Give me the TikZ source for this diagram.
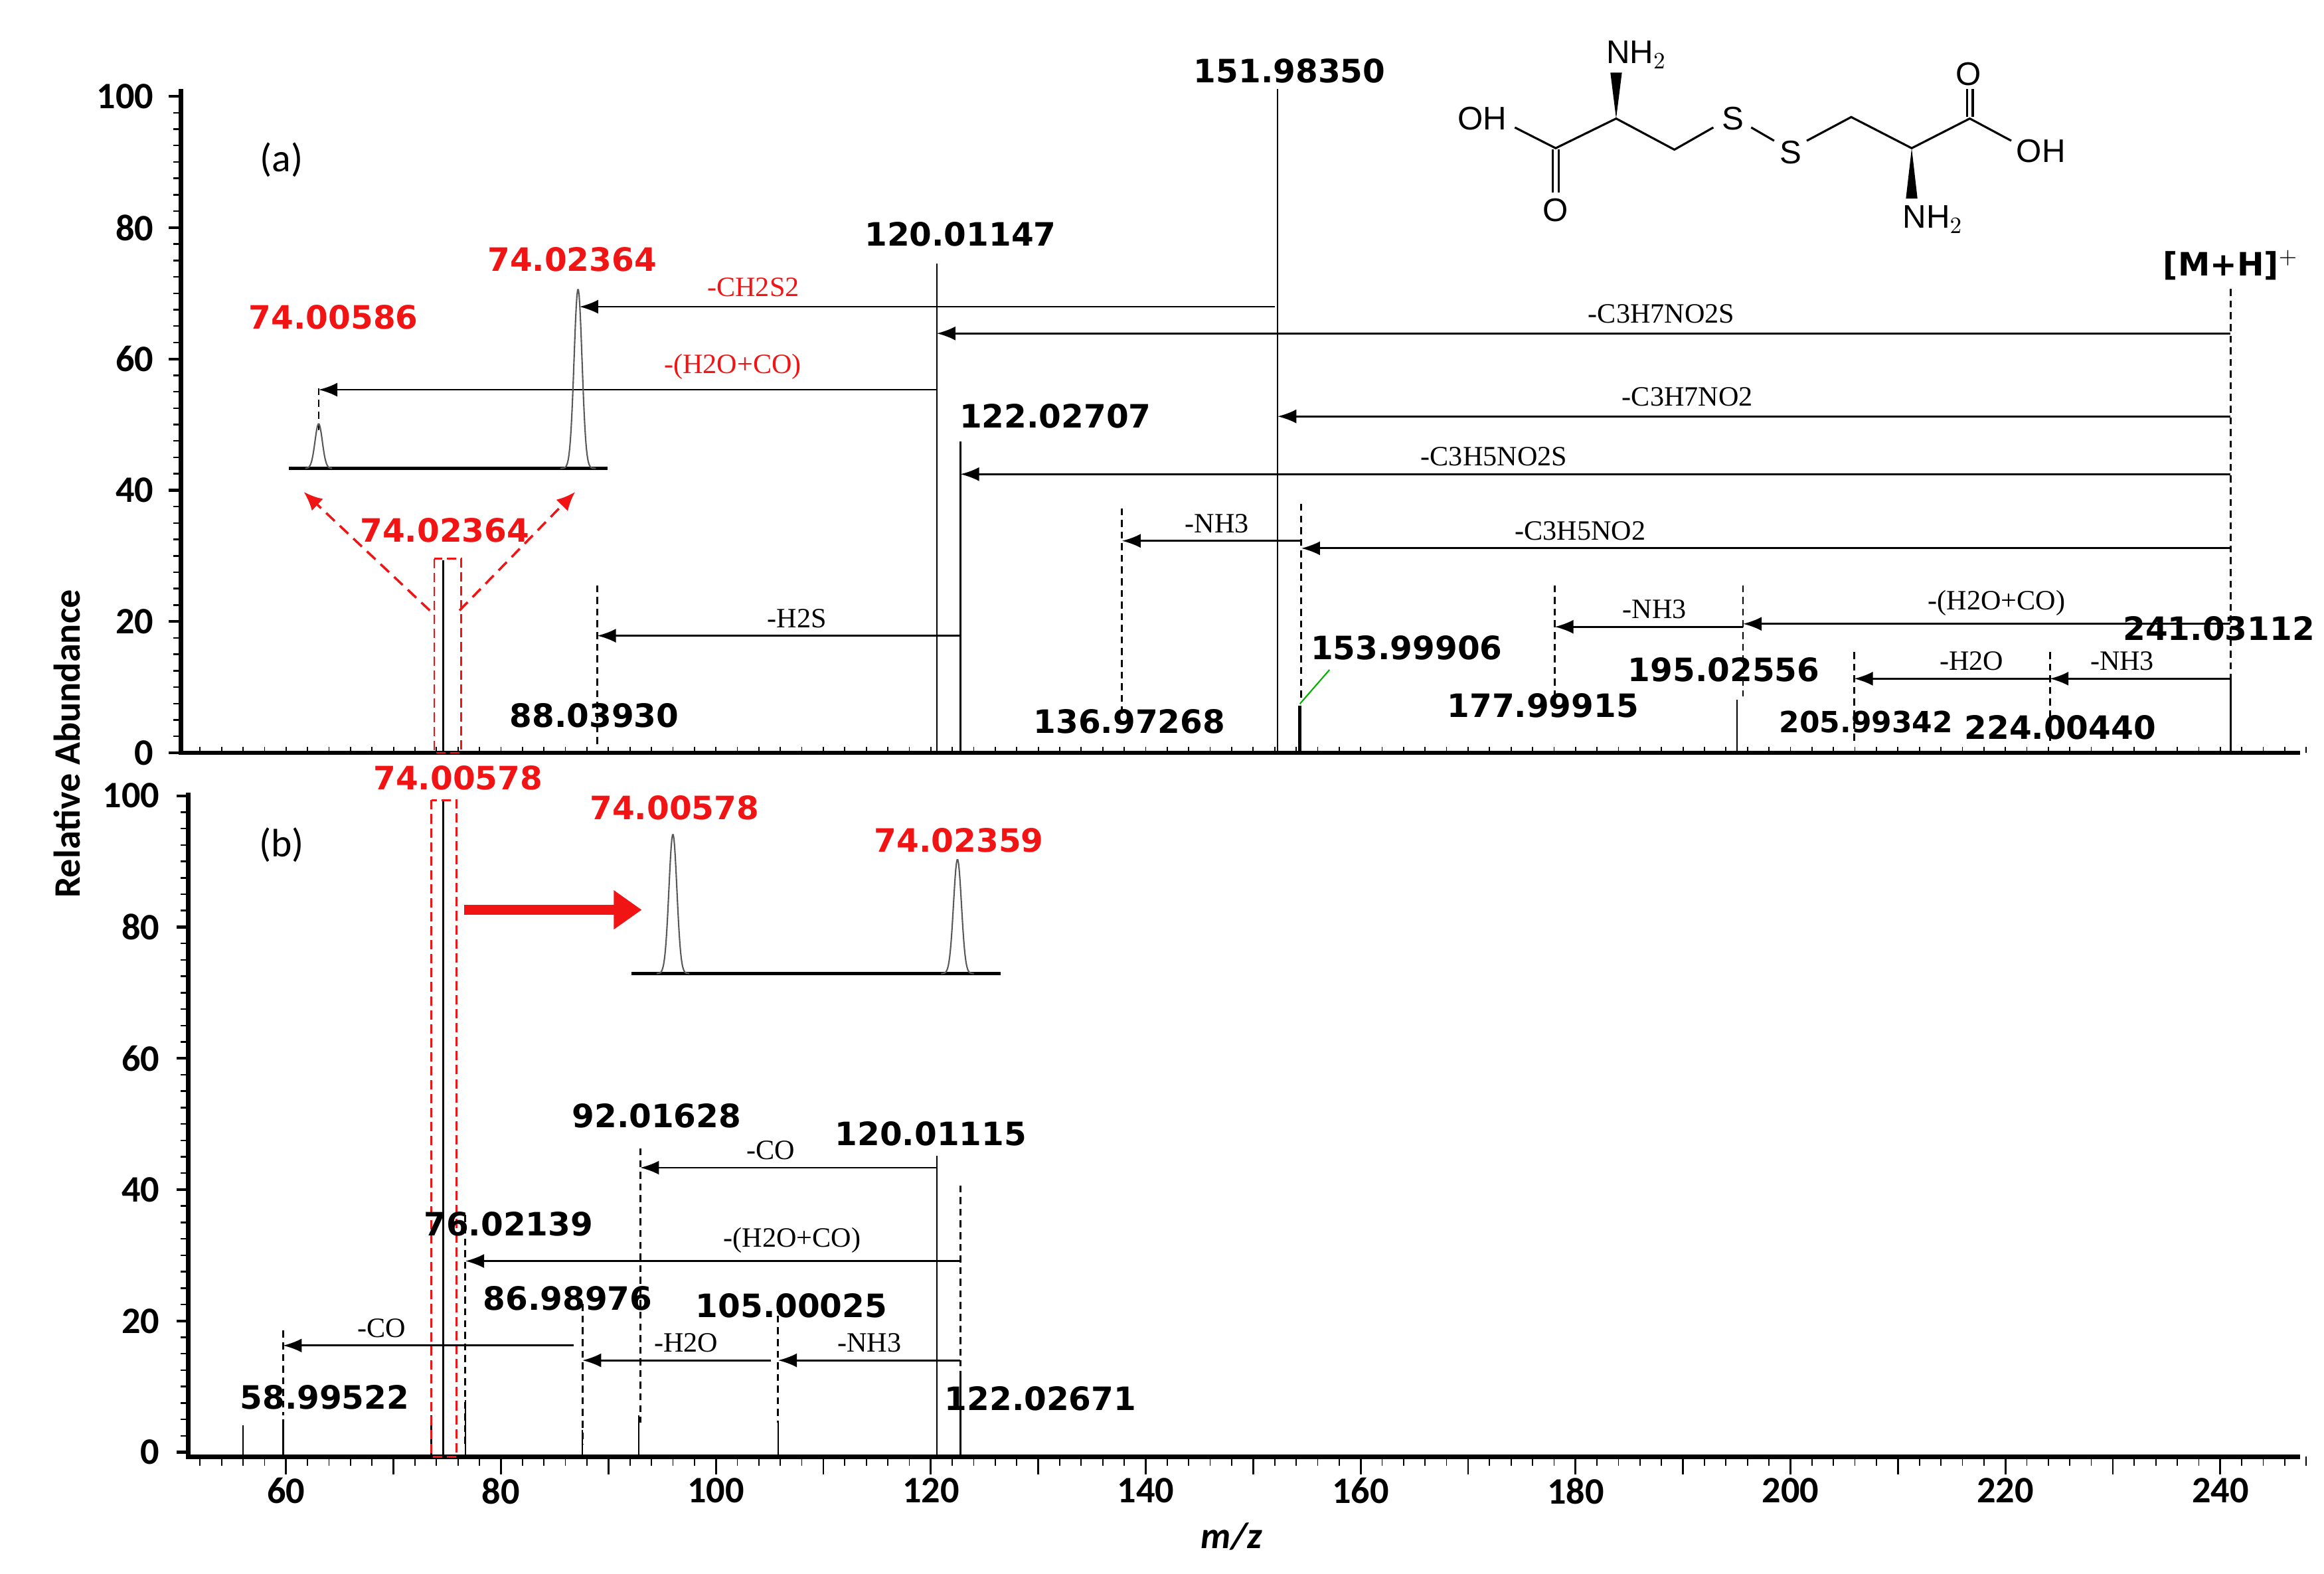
\documentclass[tikz,border=0pt]{standalone}
\usepackage{fontspec}
\setmainfont{Liberation Serif}
\newfontfamily\lab{DejaVu Sans}
\newfontfamily\tick{Carlito}
\newfontfamily\mol{Liberation Sans}
\usetikzlibrary{arrows.meta}
\definecolor{rd}{RGB}{240,20,20}
\begin{document}
\begin{tikzpicture}[x=0.02232cm,y=-0.02232cm,
  pk/.style={line width=0.7pt},
  dsh/.style={line width=0.8pt,dash pattern=on 3pt off 2pt},
  arr/.style={line width=0.8pt,-{Latex[length=8pt,width=6pt]}},
  ax/.style={line width=1.9pt},
  pl/.style={font=\lab\bfseries\fontsize{13.8}{15}\selectfont,inner sep=0pt},
  rl/.style={pl,text=rd},
  al/.style={font=\fontsize{12}{14}\selectfont,inner sep=0pt},
  ral/.style={al,text=rd},
  tl/.style={font=\tick\bfseries\fontsize{16}{18}\selectfont,inner sep=0pt},
  ml/.style={font=\mol\fontsize{14}{16}\selectfont,inner sep=0pt},
  gp/.style={gray!70!black,line width=0.6pt}]
\useasboundingbox (0,0) rectangle (1568,1062);
% ---------- panel a axes
\draw[ax] (122,60) -- (122,508) -- (1552,508);
\foreach \v in {0,20,...,100}{\draw[line width=1.2pt] (122,{508-4.43*\v}) -- (114,{508-4.43*\v});
  \node[tl,anchor=east] at (104,{508-4.43*\v}) {\v};}
\foreach \v in {0,2.5,...,100}{\draw[line width=0.7pt] (122,{508-4.43*\v}) -- (117,{508-4.43*\v});}
\foreach \m in {52,54,...,250}{\draw[line width=0.5pt] ({193+(\m-60)*7.25},508) -- ({193+(\m-60)*7.25},504);}
% ---------- panel b axes
\draw[ax] (127,535) -- (127,983) -- (1552,983);
\foreach \v in {0,20,...,100}{\draw[line width=1.2pt] (127,{980-4.43*\v}) -- (119,{980-4.43*\v});
  \node[tl,anchor=east] at (108,{980-4.43*\v}) {\v};}
\foreach \v in {0,2.5,...,100}{\draw[line width=0.7pt] (127,{980-4.43*\v}) -- (122,{980-4.43*\v});}
\foreach \m in {52,54,...,250}{\draw[line width=0.5pt] ({193+(\m-60)*7.25},983) -- ({193+(\m-60)*7.25},989);}
\foreach \m in {60,70,...,240}{\draw[line width=0.8pt] ({193+(\m-60)*7.25},983) -- ({193+(\m-60)*7.25},995);}
\foreach \m in {60,80,...,240}{\node[tl,anchor=north] at ({193+(\m-60)*7.25},997) {\m};}
\node[font=\tick\bfseries\itshape\fontsize{16}{18}\selectfont] (mz) at (831,1037) {m/z};
\node[font=\tick\bfseries\fontsize{16}{18}\selectfont,rotate=90] (ra) at (45,502) {Relative Abundance};
\node[font=\tick\fontsize{17}{19}\selectfont] (pa) at (190,108) {(a)};
\node[font=\tick\fontsize{17}{19}\selectfont] (pb) at (190,570) {(b)};
% ---------- panel a peaks
\draw[pk] (299,508) -- (299,378);
\draw[pk] (632,508) -- (632,178);
\draw[pk] (648,508) -- (648,298);
\draw[pk] (862,508) -- (862,60);
\draw[line width=1.3pt] (877,508) -- (877,476);
\draw[pk] (1172,508) -- (1172,472);
\draw[pk] (1505,508) -- (1505,458);
% dashed markers a
\draw[dsh] (215,262) -- (215,292);
\draw[dsh] (403,395) -- (403,505);
\draw[dsh] (757,343) -- (757,482);
\draw[dsh] (878,340) -- (878,472);
\draw[dsh] (1049,395) -- (1049,478);
\draw[dsh] (1176,395) -- (1176,470);
\draw[dsh] (1251,440) -- (1251,502);
\draw[dsh] (1383,440) -- (1383,502);
\draw[dsh] (1505,195) -- (1505,458);
\draw[green!70!black,line width=0.6pt] (877,475) -- (897,452);
% arrows a
\coordinate (a1s) at (860,207); \coordinate (a1e) at (391,207);
\draw[arr] (a1s) -- (a1e) node[ral,pos=0.75,above=4pt] {-CH2S2};
\coordinate (a2s) at (1505,225); \coordinate (a2e) at (632,225);
\draw[arr] (a2s) -- (a2e) node[al,pos=0.44,above=4pt] {-C3H7NO2S};
\coordinate (a3s) at (632,263); \coordinate (a3e) at (215,263);
\draw[arr] (a3s) -- (a3e) node[ral,pos=0.33,above=4pt] {-(H2O+CO)};
\coordinate (a4s) at (1505,281); \coordinate (a4e) at (862,281);
\draw[arr] (a4s) -- (a4e) node[al,pos=0.57,above=4pt] {-C3H7NO2};
\coordinate (a5s) at (1505,320); \coordinate (a5e) at (648,320);
\draw[arr] (a5s) -- (a5e) node[al,pos=0.58,above=3pt] {-C3H5NO2S};
\coordinate (a6s) at (878,365); \coordinate (a6e) at (757,365);
\draw[arr] (a6s) -- (a6e) node[al,pos=0.47,above=3pt] {-NH3};
\coordinate (a7s) at (1505,370); \coordinate (a7e) at (878,370);
\draw[arr] (a7s) -- (a7e) node[al,pos=0.70,above=3pt] {-C3H5NO2};
\coordinate (a8s) at (648,429); \coordinate (a8e) at (403,429);
\draw[arr] (a8s) -- (a8e) node[al,pos=0.45,above=3pt] {-H2S};
\coordinate (a9s) at (1176,423); \coordinate (a9e) at (1049,423);
\draw[arr] (a9s) -- (a9e) node[al,pos=0.47,above=3pt] {-NH3};
\coordinate (a10s) at (1505,421); \coordinate (a10e) at (1176,421);
\draw[arr] (a10s) -- (a10e) node[al,pos=0.48,above=3pt] {-(H2O+CO)};
\coordinate (a11s) at (1383,458); \coordinate (a11e) at (1251,458);
\draw[arr] (a11s) -- (a11e) node[al,pos=0.4,above=3pt] {-H2O};
\coordinate (a12s) at (1505,458); \coordinate (a12e) at (1383,458);
\draw[arr] (a12s) -- (a12e) node[al,pos=0.6,above=3pt] {-NH3};
% labels a
\node[pl] (l1) at (870,48) {151.98350};
\node[pl] (l2) at (648,158) {120.01147};
\node[pl] (l3) at (712,281) {122.02707};
\node[pl] (l4) at (401,483) {88.03930};
\node[pl] (l5) at (762,487) {136.97268};
\node[pl] (l6) at (949,437) {153.99906};
\node[pl] (l7) at (1041,476) {177.99915};
\node[pl] (l8) at (1163,452) {195.02556};
\node[pl,font=\lab\bfseries\fontsize{12.5}{14}\selectfont] (l9) at (1259,487) {205.99342};
\node[pl] (l10) at (1390,491) {224.00440};
\node[pl] (l11) at (1497,424) {241.03112};
\node[pl] (l12) at (1505,179) {[M+H]$^{+}$};
\node[rl] (r1) at (386,175) {74.02364};
\node[rl] (r2) at (225,214) {74.00586};
\node[rl] (r3) at (300,358) {74.02364};
% inset a
\draw[line width=1.6pt] (195,316) -- (410,316);
\draw[gp] plot[domain=-9:9,samples=40] ({215+\x},{316-30*exp(-(\x/3.5)^2)});
\draw[gp] plot[domain=-12:12,samples=50] ({390+\x},{316-121*exp(-(\x/3.8)^2)});
\draw[rd,line width=0.8pt,dash pattern=on 4pt off 2pt] (293,377) rectangle (311,508);
\draw[rd,line width=1pt,dash pattern=on 5pt off 3pt,-{Latex[length=8pt,width=7pt]}] (290,412) -- (205,332);
\draw[rd,line width=1pt,dash pattern=on 5pt off 3pt,-{Latex[length=8pt,width=7pt]}] (310,412) -- (388,332);
% ---------- panel b peaks
\draw[pk] (299,983) -- (299,540);
\foreach \xx/\yy in {164/962,191/958,291/955,314/945,393/965,431/955,525/960,648/925,632/780}{\draw[pk] (\xx,983) -- (\xx,\yy);}
\draw[dsh] (191,898) -- (191,955);
\draw[dsh] (314,820) -- (314,975);
\draw[dsh] (393,880) -- (393,975);
\draw[dsh] (432,775) -- (432,960);
\draw[dsh] (525,880) -- (525,960);
\draw[dsh] (648,800) -- (648,922);
\draw[rd,line width=0.8pt,dash pattern=on 4pt off 2pt] (291,540) rectangle (308,983);
% arrows b
\coordinate (b1s) at (632,788); \coordinate (b1e) at (432,788);
\draw[arr] (b1s) -- (b1e) node[al,pos=0.56,above=3pt] {-CO};
\coordinate (b2s) at (648,851); \coordinate (b2e) at (314,851);
\draw[arr] (b2s) -- (b2e) node[al,pos=0.34,above=3pt] {-(H2O+CO)};
\coordinate (b3s) at (387,908); \coordinate (b3e) at (191,908);
\draw[arr] (b3s) -- (b3e) node[al,pos=0.66,above=3pt] {-CO};
\coordinate (b4s) at (520,918); \coordinate (b4e) at (393,918);
\draw[arr] (b4s) -- (b4e) node[al,pos=0.45,above=3pt] {-H2O};
\coordinate (b5s) at (648,918); \coordinate (b5e) at (525,918);
\draw[arr] (b5s) -- (b5e) node[al,pos=0.5,above=3pt] {-NH3};
% labels b
\node[pl] (m1) at (628,765) {120.01115};
\node[pl] (m2) at (443,753) {92.01628};
\node[pl] (m3) at (343,826) {76.02139};
\node[pl] (m4) at (383,876) {86.98976};
\node[pl] (m5) at (534,881) {105.00025};
\node[pl] (m6) at (219,943) {58.99522};
\node[pl] (m7) at (702,944) {122.02671};
\node[rl] (s1) at (309,525) {74.00578};
\node[rl] (s2) at (455,545) {74.00578};
\node[rl] (s3) at (647,567) {74.02359};
% inset b
\draw[line width=1.6pt] (426,657) -- (675,657);
\draw[gp] plot[domain=-11:11,samples=50] ({454+\x},{657-94*exp(-(\x/3.8)^2)});
\draw[gp] plot[domain=-11:11,samples=50] ({646+\x},{657-77*exp(-(\x/3.8)^2)});
\coordinate (fa) at (313,614); \coordinate (fb) at (433,614);
\draw[rd,line width=4.5pt,-{Triangle[length=12pt,width=16pt]}] (fa) -- (fb);
% ---------- molecule
\node[ml] (oh1) at (1000,80) {OH};
\node[ml] (o1) at (1049.6,142) {O};
\node[ml] (n1) at (1104,37) {NH$_2$};
\node[ml] (s1a) at (1169,80) {S};
\node[ml] (s2a) at (1208,103) {S};
\node[ml] (o2) at (1328,50) {O};
\node[ml] (oh2) at (1377,102) {OH};
\node[ml] (n2) at (1304,148) {NH$_2$};
\begin{scope}[line width=0.9pt]
\coordinate (c1) at (1049.6,100); \coordinate (ca) at (1090.4,80);
\coordinate (cb) at (1129.7,101); \coordinate (cb2) at (1249,79);
\coordinate (ca2) at (1289.8,100); \coordinate (c2) at (1329,80);
\draw (1022,86) -- (c1) -- (ca) -- (cb) -- (1156,86);
\draw (1181.5,86) -- (1197,95);
\draw (1219,95) -- (cb2) -- (ca2) -- (c2) -- (1357,95);
\draw (1047.6,101) -- (1047.6,130); \draw (1051.6,101) -- (1051.6,130);
\draw (1327,79) -- (1327,60); \draw (1331,79) -- (1331,60);
\fill (ca) -- (1086.5,49) -- (1094.3,49) -- cycle;
\fill (ca2) -- (1285.9,134) -- (1293.7,134) -- cycle;
\end{scope}
\end{tikzpicture}
\end{document}
